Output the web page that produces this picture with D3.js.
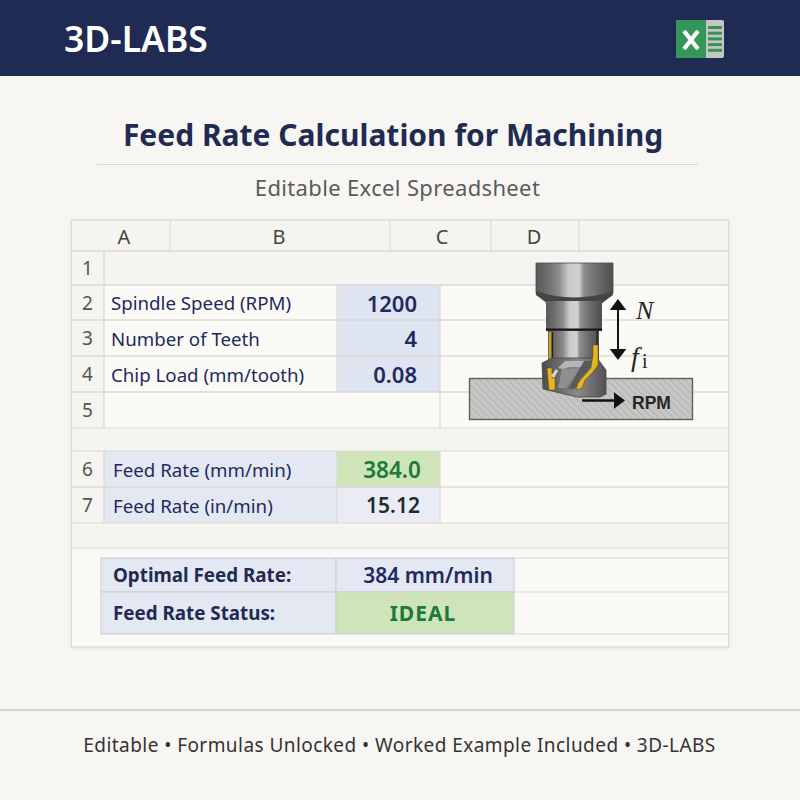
<!DOCTYPE html>
<html>
<head>
<meta charset="utf-8">
<script src="https://cdn.jsdelivr.net/npm/d3@7/dist/d3.min.js"></script>
<style>
  html, body { margin: 0; padding: 0; background: #f8f6f2; }
  svg { display: block; }
  text { font-family: "Noto Sans", sans-serif; }
</style>
</head>
<body>
<div id="chart"></div>
<script>
// sheet content
const brand = '3D-LABS';
const title = 'Feed Rate Calculation for Machining';
const subtitle = 'Editable Excel Spreadsheet';
const footer = 'Editable \u2022 Formulas Unlocked \u2022 Worked Example Included \u2022 3D-LABS';
const column_labels = ['A', 'B', 'C', 'D'];
const row_numbers = ['1', '2', '3', '4', '5', '6', '7'];
const input_rows = ['2', '3', '4'];
const input_labels = ['Spindle Speed (RPM)', 'Number of Teeth', 'Chip Load (mm/tooth)'];
const input_values = ['1200', '4', '0.08'];
const result_rows = ['6', '7'];
const result_labels = ['Feed Rate (mm/min)', 'Feed Rate (in/min)'];
const result_values = ['384.0', '15.12'];
const summary_labels = ['Optimal Feed Rate:', 'Feed Rate Status:'];
const summary_values = ['384 mm/min', 'IDEAL'];

const width = 800;
const height = 800;
const navy = '#1f2b53';
const ink = '#1f2a60';
const green_fill = '#cfe5b9';
const green_text = '#1c7a3c';
const blue_fill = '#e4e8f3';
const input_fill = '#dfe4f1';
const grid = '#dbd9d4';

// layout scales for the grid
const sheet = {left: 71.5, right: 728.5, top: 220, bottom: 647, num_right: 104};
const col_x = d3.scaleOrdinal().domain(['A', 'B', 'C', 'D', 'E']).range([71.5, 170, 390, 491, 579]);
const col_center = d3.scaleOrdinal().domain(column_labels).range([124, 279, 442, 534]);
const row_top = d3.scaleOrdinal().domain(row_numbers).range([251, 285, 320, 356, 392, 451, 487]);
const row_bottom = d3.scaleOrdinal().domain(row_numbers).range([285, 320, 356, 392, 428, 487, 523]);
const row_mid = r => (row_top(r) + row_bottom(r)) / 2;
const sum_heights = d3.scaleOrdinal().domain(summary_labels).range([34, 42]);
const sum_top = d3.scaleOrdinal().domain(summary_labels).range([558, 592]);

const svg = d3.select('#chart').append('svg').attr('width', width).attr('height', height);
const defs = svg.append('defs');

function addShade(id, stops){
    const g = defs.append('linearGradient').attr('id', id);
    stops.forEach(function(s){
        g.append('stop').attr('offset', s[0]).attr('stop-color', s[1]);
    });
}
addShade('steel', [[0, '#5a5a5a'], [0.14, '#6c6c6c'], [0.3, '#8c8c8c'], [0.42, '#c9c9c9'], [0.56, '#d2d2d2'], [0.62, '#8e8e8e'], [0.8, '#6b6b6b'], [1, '#4e4e4e']]);
addShade('steel_dark', [[0, '#4d4d4d'], [0.3, '#6e6e6e'], [0.55, '#8a8a8a'], [0.8, '#6a6a6a'], [1, '#525252']]);

const hatch = defs.append('pattern').attr('id', 'hatch').attr('width', 5).attr('height', 5)
    .attr('patternUnits', 'userSpaceOnUse').attr('patternTransform', 'rotate(-45)');
hatch.append('rect').attr('width', 5).attr('height', 5).attr('fill', '#c6c6c4');
hatch.append('line').attr('x1', 0).attr('x2', 0).attr('y1', 0).attr('y2', 5).attr('stroke', '#a4a4a2').attr('stroke-width', 1.2);

const shadow = defs.append('filter').attr('id', 'soft').attr('x', '-3%').attr('y', '-3%').attr('width', '106%').attr('height', '106%');
shadow.append('feDropShadow').attr('dx', 0).attr('dy', 1).attr('stdDeviation', 2).attr('flood-color', '#000').attr('flood-opacity', 0.1);

svg.append('rect').attr('width', width).attr('height', height).attr('fill', '#f8f6f2');

// top banner
svg.append('rect').attr('width', width).attr('height', 76).attr('fill', navy);
svg.append('text').text(brand).attr('x', 64).attr('y', 52)
    .attr('font-size', 35.5).attr('font-weight', 600).attr('fill', '#ffffff');

// excel icon
const icon = svg.append('g');
icon.append('rect').attr('x', 676).attr('y', 20).attr('width', 48).attr('height', 38).attr('rx', 2).attr('fill', '#c3c7c3');
icon.append('path').attr('d', 'M678,20H706V58H678a2,2 0 0 1 -2,-2V22a2,2 0 0 1 2,-2Z').attr('fill', '#359757');
icon.selectAll('rect.stripe').data(d3.range(5)).enter().append('rect')
    .attr('class', 'stripe').attr('x', 708).attr('width', 14).attr('height', 3)
    .attr('y', function(d){return 26 + d * 5.7;}).attr('fill', '#3d8f58');
icon.append('path').attr('d', 'M684,31L698,49M698,31L684,49').attr('stroke', '#ffffff').attr('stroke-width', 4.2).attr('fill', 'none');

// headings
svg.append('text').text(title).attr('x', 393).attr('y', 146).attr('text-anchor', 'middle')
    .attr('font-size', 30).attr('font-weight', 700).attr('fill', navy);
svg.append('line').attr('x1', 97).attr('x2', 698).attr('y1', 164.5).attr('y2', 164.5).attr('stroke', '#d9d7d2').attr('stroke-width', 1.2);
svg.append('text').text(subtitle).attr('x', 397.5).attr('y', 196).attr('text-anchor', 'middle')
    .attr('font-size', 22).attr('letter-spacing', 0.35).attr('fill', '#5a5a5a');

// sheet body
svg.append('rect').attr('x', sheet.left).attr('y', sheet.top)
    .attr('width', sheet.right - sheet.left).attr('height', sheet.bottom - sheet.top)
    .attr('fill', '#f6f4f0').attr('filter', 'url(#soft)');

const cells = svg.append('g');
// white-ish row backgrounds
cells.selectAll('rect.row').data(['2', '3', '4', '5', '6', '7']).enter().append('rect')
    .attr('class', 'row')
    .attr('x', sheet.num_right).attr('width', sheet.right - sheet.num_right)
    .attr('y', function(d){return row_top(d);})
    .attr('height', function(d){return row_bottom(d) - row_top(d);})
    .attr('fill', '#fbfaf7');
cells.append('rect').attr('x', sheet.left).attr('y', 548).attr('width', sheet.right - sheet.left)
    .attr('height', sheet.bottom - 548).attr('fill', '#faf9f6');

// input values
cells.selectAll('rect.input').data(input_rows).enter().append('rect')
    .attr('class', 'input').attr('x', 337).attr('width', 103)
    .attr('y', function(d){return row_top(d);})
    .attr('height', function(d){return row_bottom(d) - row_top(d);})
    .attr('fill', input_fill);

// results
cells.selectAll('rect.result_label').data(result_rows).enter().append('rect')
    .attr('class', 'result_label').attr('x', sheet.num_right).attr('width', 233)
    .attr('y', function(d){return row_top(d);})
    .attr('height', function(d){return row_bottom(d) - row_top(d);})
    .attr('fill', blue_fill);
cells.selectAll('rect.result_value').data(result_rows).enter().append('rect')
    .attr('class', 'result_value').attr('x', 337).attr('width', 103)
    .attr('y', function(d){return row_top(d);})
    .attr('height', function(d){return row_bottom(d) - row_top(d);})
    .attr('fill', function(d, i){return i === 0 ? green_fill : '#e9ecf4';});

// grid lines
const lines = svg.append('g').attr('stroke', grid).attr('stroke-width', 1.2);
function hline(y, x1, x2){
    lines.append('line').attr('x1', x1).attr('x2', x2).attr('y1', y).attr('y2', y);
}
function vline(x, y1, y2){
    lines.append('line').attr('x1', x).attr('x2', x).attr('y1', y1).attr('y2', y2);
}
hline(251, sheet.left, sheet.right);
row_numbers.forEach(function(r){
    hline(row_bottom(r), sheet.left, sheet.right);
    hline(row_top(r), sheet.left, sheet.right);
});
hline(548, sheet.left, sheet.right);
vline(sheet.num_right, 251, 428);
vline(sheet.num_right, 451, 523);
['B', 'C', 'D', 'E'].forEach(function(c){vline(col_x(c), sheet.top, 251);});
vline(337, 285, 392);
vline(337, 451, 523);
vline(440, 285, 428);
vline(440, 451, 523);
lines.append('rect').attr('x', sheet.left).attr('y', sheet.top)
    .attr('width', sheet.right - sheet.left).attr('height', sheet.bottom - sheet.top).attr('fill', 'none');

// summary block
const summary = svg.append('g');
[558, 592, 634].forEach(function(y){hline(y, 514, sheet.right);});
summary.selectAll('rect.sum_label').data(summary_labels).enter().append('rect')
    .attr('class', 'sum_label').attr('x', 101).attr('width', 235)
    .attr('y', function(d){return sum_top(d);}).attr('height', function(d){return sum_heights(d);})
    .attr('fill', blue_fill).attr('stroke', '#cfd1d6').attr('stroke-width', 1.2);
summary.selectAll('rect.sum_value').data(summary_labels).enter().append('rect')
    .attr('class', 'sum_value').attr('x', 336).attr('width', 178)
    .attr('y', function(d){return sum_top(d);}).attr('height', function(d){return sum_heights(d);})
    .attr('fill', function(d, i){return i === 0 ? blue_fill : green_fill;})
    .attr('stroke', '#cfd1d6').attr('stroke-width', 1.2);

// headers
const texts = svg.append('g').attr('dominant-baseline', 'central');
texts.selectAll('text.col').data(column_labels).enter().append('text')
    .attr('class', 'col').text(function(d){return d;})
    .attr('x', function(d){return col_center(d);}).attr('y', 236)
    .attr('text-anchor', 'middle').attr('font-size', 20).attr('fill', '#444444');
texts.selectAll('text.rownum').data(row_numbers).enter().append('text')
    .attr('class', 'rownum').text(function(d){return d;})
    .attr('x', 87.5).attr('y', function(d){return row_mid(d);})
    .attr('text-anchor', 'middle').attr('font-size', 19).attr('fill', '#555555');

// input text
texts.selectAll('text.in_label').data(input_labels).enter().append('text')
    .attr('class', 'in_label').text(function(d){return d;})
    .attr('x', 111).attr('y', function(d, i){return row_mid(input_rows[i]);})
    .attr('font-size', 18.7).attr('fill', ink);
texts.selectAll('text.in_value').data(input_values).enter().append('text')
    .attr('class', 'in_value').text(function(d){return d;})
    .attr('x', 417).attr('y', function(d, i){return row_mid(input_rows[i]);})
    .attr('text-anchor', 'end').attr('font-size', 22).attr('font-weight', 600).attr('fill', ink);

// result text
texts.selectAll('text.res_label').data(result_labels).enter().append('text')
    .attr('class', 'res_label').text(function(d){return d;})
    .attr('x', 113).attr('y', function(d, i){return row_mid(result_rows[i]);})
    .attr('font-size', 18.7).attr('fill', ink);
texts.selectAll('text.res_value').data(result_values).enter().append('text')
    .attr('class', 'res_value').text(function(d){return d;})
    .attr('x', function(d, i){return i === 0 ? 392 : 393;}).attr('y', function(d, i){return row_mid(result_rows[i]);})
    .attr('text-anchor', 'middle').attr('font-size', function(d, i){return i === 0 ? 22.5 : 21;}).attr('font-weight', 600)
    .attr('fill', function(d, i){return i === 0 ? green_text : '#1f2d2a';});

// summary text
texts.selectAll('text.sum_label').data(summary_labels).enter().append('text')
    .attr('class', 'sum_label').text(function(d){return d;})
    .attr('x', 113).attr('y', function(d){return sum_top(d) + sum_heights(d) / 2;})
    .attr('font-size', 18.8).attr('font-weight', 700).attr('fill', navy);
texts.selectAll('text.sum_value').data(summary_values).enter().append('text')
    .attr('class', 'sum_value').text(function(d){return d;})
    .attr('x', function(d, i){return i === 0 ? 428 : 423;}).attr('y', function(d, i){return sum_top(summary_labels[i]) + sum_heights(summary_labels[i]) / 2;})
    .attr('text-anchor', 'middle').attr('font-size', 21)
    .attr('font-weight', function(d, i){return i === 0 ? 600 : 700;})
    .attr('letter-spacing', function(d, i){return i === 0 ? 0 : 1;})
    .attr('fill', function(d, i){return i === 0 ? ink : green_text;});

// cutter drawing
const tool = svg.append('g');
tool.append('rect').attr('x', 469.5).attr('y', 378.5).attr('width', 223).attr('height', 41)
    .attr('fill', 'url(#hatch)').attr('stroke', '#5f5f5f').attr('stroke-width', 1.4);
tool.append('path').attr('d', 'M536,263H613V293L602,303H547L536,293Z').attr('fill', 'url(#steel)').attr('stroke', '#4a4a4a').attr('stroke-width', 0.8);
tool.append('path').attr('d', 'M536,291Q574,304 613,291V295L602,303H547L536,295Z').attr('fill', '#454545');
tool.append('rect').attr('x', 546).attr('y', 301).attr('width', 56).attr('height', 28).attr('fill', 'url(#steel)');
tool.append('rect').attr('x', 546).attr('y', 328.5).attr('width', 56).attr('height', 2.4).attr('fill', '#161616');
tool.append('rect').attr('x', 548).attr('y', 331).attr('width', 51).attr('height', 34).attr('fill', 'url(#steel)');
tool.append('path').attr('d', 'M550,332V362').attr('stroke', '#c9a21f').attr('stroke-width', 2.5);
tool.append('path').attr('d', 'M552.5,332V362').attr('stroke', '#222222').attr('stroke-width', 1.4);
tool.append('path').attr('d', 'M597,331V352').attr('stroke', '#222222').attr('stroke-width', 1.4);
// head with flutes and inserts
tool.append('path').attr('d', 'M542,363L552,358H597L606,370V394L600,397H577L543,389Z').attr('fill', 'url(#steel_dark)').attr('stroke', '#484848').attr('stroke-width', 0.8);
tool.append('path').attr('d', 'M558,368L565,361H594L590,367H570L563,369Z').attr('fill', '#b4b4b4');
tool.append('path').attr('d', 'M562,369H578L566,388H558Z').attr('fill', '#8f8f8f');
tool.append('path').attr('d', 'M584,361H593L590,368L582,377L575,389H568L576,375Z').attr('fill', '#5a5a5a');
tool.append('path').attr('d', 'M593,345H598V365L592,373L585,380L582,388L576,390L578,383L583,377L591,368L593,355Z').attr('fill', '#e8b71f').attr('stroke', '#5c4a0e').attr('stroke-width', 0.5);
tool.append('path').attr('d', 'M547,368L552,368L552,378L555,378V390H549Z').attr('fill', '#e8b71f').attr('stroke', '#5c4a0e').attr('stroke-width', 0.5);
tool.append('path').attr('d', 'M551,376L556,369L558,371L554,378Z').attr('fill', '#d6d6d0');

function arrowHead(x, y, dir, size){
    const half = size * 0.75;
    const pts = dir === 'up' ? [[x, y], [x - half, y + size], [x + half, y + size]]
        : dir === 'down' ? [[x, y], [x - half, y - size], [x + half, y - size]]
        : [[x, y], [x - size, y - half], [x - size, y + half]];
    tool.append('path').attr('d', d3.line()(pts) + 'Z').attr('fill', '#111111');
}
tool.append('line').attr('x1', 618).attr('x2', 618).attr('y1', 303).attr('y2', 355).attr('stroke', '#111111').attr('stroke-width', 2);
arrowHead(618, 299, 'up', 11);
arrowHead(618, 360, 'down', 11);
tool.append('line').attr('x1', 582).attr('x2', 618).attr('y1', 400.5).attr('y2', 400.5).attr('stroke', '#111111').attr('stroke-width', 2.5);
arrowHead(625, 400.5, 'right', 11);

tool.append('text').text('RPM').attr('x', 632).attr('y', 409)
    .style('font-family', '"Liberation Sans", sans-serif').attr('font-size', 17.5).attr('font-weight', 700).attr('fill', '#262626');
tool.append('text').text('N').attr('x', 636).attr('y', 319)
    .style('font-family', '"Liberation Serif", serif').attr('font-style', 'italic').attr('font-size', 26).attr('fill', '#262626');
tool.append('text').text('f').attr('x', 631).attr('y', 366)
    .style('font-family', '"Liberation Serif", serif').attr('font-style', 'italic').attr('font-size', 28).attr('fill', '#262626');
tool.append('text').text('i').attr('x', 642).attr('y', 368)
    .style('font-family', '"Liberation Serif", serif').attr('font-size', 20).attr('fill', '#262626');

// footer
svg.append('line').attr('x1', 0).attr('x2', width).attr('y1', 710).attr('y2', 710).attr('stroke', '#d6d4cf').attr('stroke-width', 2);
svg.append('text').text(footer).attr('x', 399.5).attr('y', 752).attr('text-anchor', 'middle')
    .attr('font-size', 19).attr('letter-spacing', 0.44).attr('fill', '#333333');
</script>
</body>
</html>
